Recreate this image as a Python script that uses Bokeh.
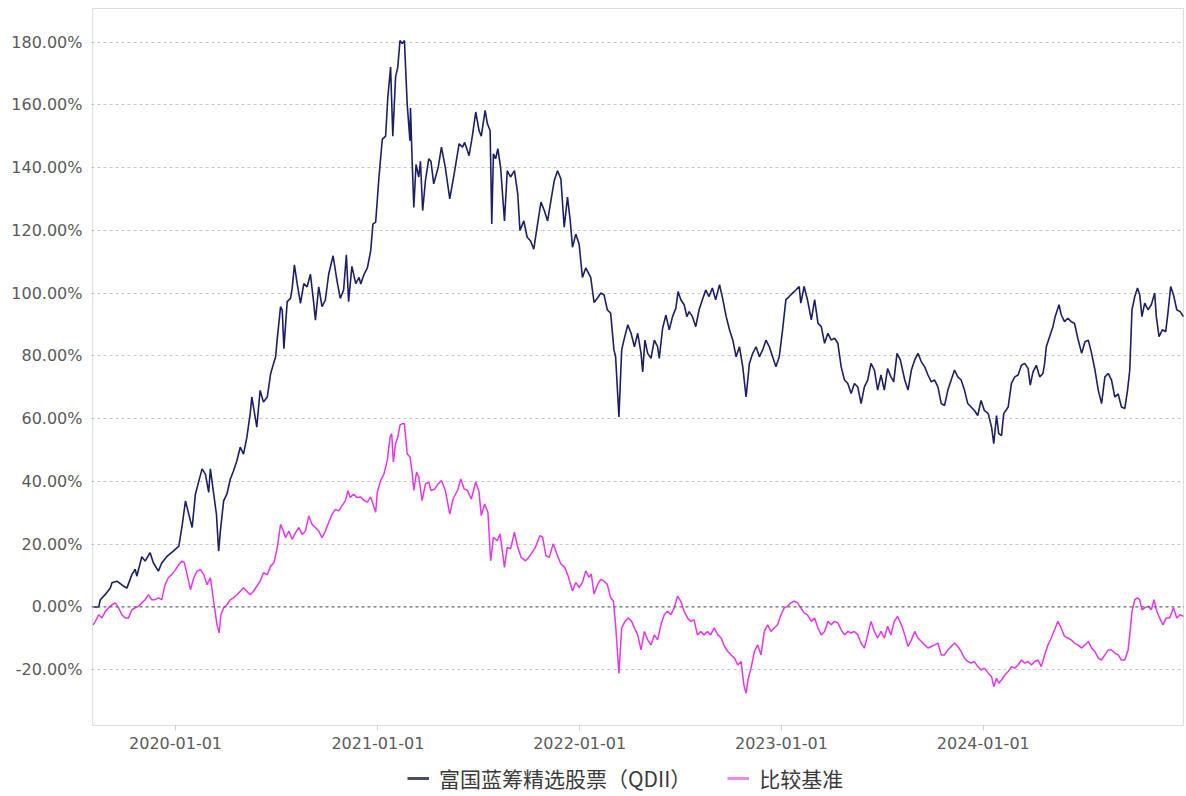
import pandas as pd
from bokeh.plotting import figure
from bokeh.models import (Range1d, FixedTicker, DatetimeTickFormatter, PrintfTickFormatter,
                          Legend, LegendItem, Span, BoxAnnotation)
from bokeh.embed import file_html
from bokeh.resources import INLINE

start_date = "2019-08-05"
fund_name = "富国蓝筹精选股票（QDII）"
bench_name = "比较基准"

fund_day = [1, 10, 13, 22, 31, 34, 43, 52, 61, 70, 76, 79, 88, 94, 103, 109, 118, 124, 133, 145, 155, 161, 167, 173, 179,
            185, 191, 197, 203, 209, 212, 218, 223, 227, 230, 236, 242, 248, 254, 260, 266, 272, 278, 284, 287, 293, 296,
            302, 308, 315, 321, 327, 330, 333, 339, 342, 345, 351, 357, 360, 364, 369, 375, 381, 387, 393, 399, 402, 408,
            414, 420, 426, 434, 441, 447, 453, 458, 462, 468, 475, 481,
            484, 490, 496, 502, 506, 511, 517, 523, 529, 533, 538, 542, 547, 551, 555, 559, 563, 568, 573, 574, 577, 580,
            584, 589, 592, 596, 601, 607, 611, 616, 624, 630, 637, 645, 653, 662, 668, 672, 680, 686, 692, 698, 702, 709,
            713, 718, 721, 724, 728, 732, 737, 744, 749, 755, 762, 768, 772, 779, 785, 791, 797, 803, 810, 816, 822, 828,
            834, 840, 846, 852, 858, 863, 867, 873, 879, 885, 891, 900, 906, 913,
            918, 924, 930, 936, 942, 945, 951, 956, 960, 967, 973, 979, 985, 991, 994, 998, 1003, 1009, 1015, 1021, 1024,
            1030, 1036, 1042, 1048, 1054, 1058, 1063, 1069, 1074, 1078, 1084, 1090, 1096, 1102, 1108, 1114, 1120, 1126,
            1133, 1139, 1145, 1151, 1157, 1163, 1169, 1175, 1181, 1187, 1193, 1199, 1205, 1211, 1217, 1223, 1229, 1235,
            1241, 1247, 1253, 1259, 1265, 1271, 1277, 1280, 1286, 1292, 1299, 1305, 1311, 1317, 1323, 1329, 1335, 1341,
            1347, 1353, 1359, 1365, 1371, 1377, 1383, 1389, 1395, 1401, 1407, 1413, 1419,
            1425, 1431, 1437, 1443, 1448, 1454, 1460, 1468, 1474, 1480, 1486, 1492, 1498, 1504, 1510, 1516, 1522, 1528,
            1534, 1540, 1546, 1552, 1558, 1564, 1570, 1576, 1582, 1588, 1594, 1600, 1606, 1612, 1619, 1625, 1629, 1634,
            1638, 1643, 1647, 1655, 1661, 1667, 1673, 1679, 1685, 1691, 1695, 1700, 1706, 1712, 1718, 1721, 1724, 1730,
            1736, 1740, 1747, 1751, 1757, 1763, 1769, 1775, 1781, 1788, 1794, 1800, 1806, 1812, 1818, 1824, 1830, 1836,
            1842, 1848, 1854, 1860, 1866, 1871, 1875, 1879, 1884, 1889, 1893, 1897, 1902, 1908, 1914, 1920, 1923, 1928,
            1934, 1940, 1944, 1949, 1954, 1960, 1966, 1972]
fund_pct = [0, 0, 2.3, 4, 6, 7.7, 8.2, 7, 6, 10.3, 12, 9.8, 16, 14.6, 17.3, 14, 11.4, 14, 16, 17.8, 19.4, 26, 33.8, 29.5, 25.3,
            36, 40, 44, 42.3, 36.5, 44, 36, 29.5, 17.8, 24, 33.8, 36, 40.7, 43.4, 46.6, 50.9, 48.7, 54, 61.5, 66.9, 60.5, 57.3,
            69, 65.3, 66.9, 74.3, 78, 79.7, 85.5, 95.7, 94.6, 82.3, 97.3, 98.3, 101.5, 109, 103, 96.7, 103, 102, 106, 96.7, 91.4, 102,
            95.7, 97.8, 106, 111.9, 104, 98.3, 101, 112.2, 97.3, 108.5, 103, 105,
            102.9, 106, 108, 113.5, 122, 122.6, 137, 149, 150, 162.4, 172, 150, 168.8, 172, 180.5, 179.5, 180.5, 160.3, 148.6, 159, 142, 127.3,
            141, 137, 142, 126.3, 135.8, 142.8, 142, 134.8, 140, 146.5, 140, 130, 138, 147.6, 146.5, 148, 143.8, 150.2, 157.7, 151.8, 150, 158.2,
            154, 151.8, 122, 144.4, 142.8, 146, 140, 123, 139, 137, 139, 131.6, 120, 123, 117.8, 116.7, 114, 121, 129, 126.3, 123, 129.5,
            135.8, 139, 136.4, 121, 130.6, 123, 114.6, 118.8, 115.6, 105, 108, 105, 97, 98.6,
            100, 99.5, 94.7, 93.6, 81.9, 79.7, 60.5, 81.9, 85, 89.9, 87.2, 82.9, 87.2, 80.8, 74.9, 85, 80.8, 79.2, 85, 82.9, 79.2,
            88.8, 93, 88.3, 92.5, 95.2, 100.5, 97.9, 96.3, 92.5, 94.1, 92.5, 89.3, 94.7, 97.9, 101, 98.9, 101.6, 97.9,
            102.7, 97.9, 92.5, 88.3, 85, 79.7, 82.9, 76.5, 66.9, 77.6, 80.8, 82.9, 79.7, 81.9, 85, 82.9, 79.7, 76.5,
            79.7, 88.3, 97.9, 98.9, 100, 101, 102.1, 96.8, 102.1, 97.9, 91.5, 97.9, 90.4, 89.3, 84, 87.2, 85, 85.6,
            84, 76.5, 72.3, 71.2, 68, 71.2, 70.1, 64.8, 70.1, 72.3, 77.6, 75.5, 69.1,
            73.9, 69.1, 76, 73.3, 71.7, 80.8, 78.7, 72.3, 69.1, 75.5, 78.7, 80.8, 78.1, 76.5, 73.9, 71.7, 72.3, 70.1,
            64.8, 64.2, 69.1, 72.3, 75.5, 73.3, 72.3, 69.1, 64.8, 63.7, 62.6, 61, 65.8, 62.6, 61.6, 57.3, 52, 61,
            55.2, 54.6, 61.6, 63.7, 71.2, 73.3, 73.9, 77, 77.6, 76, 70.7, 74.9, 77, 73.3, 74.4, 77.6, 82.9, 86.1,
            89.3, 92.5, 96.3, 93.1, 90.9, 92, 90.9, 90.4, 85.6, 80.8, 84.5, 85, 80.8, 75.5, 69.1, 64.8, 73.3, 74.4,
            72.3, 66.9, 67.9, 63.7, 63.2, 69.1, 75.5, 94.7, 98.9, 101.6, 99.5, 92.5, 96.8, 94.7, 96.3, 100, 92.5, 86.1,
            88.3, 87.7, 93.6, 102.1, 99.5, 94.7, 94.1, 92.5]

bench_day = [0, 4, 10, 16, 22, 28, 34, 40, 46, 52, 58, 64, 70, 76, 82, 88, 94, 100, 106, 112, 118, 124, 130, 136, 142, 149,
             155, 161, 165, 170, 176, 182, 188, 194, 200, 206, 212, 218, 224, 228, 231, 236, 242, 248, 254, 260, 266, 272,
             278, 284, 290, 296, 302, 308, 315, 321, 327, 333, 339, 344, 348, 354, 360, 366, 372, 378, 384, 390, 396, 402,
             408, 414, 420, 426, 432, 438, 444, 450, 456, 461, 465, 471, 477,
             484, 490, 496, 502, 508, 511, 514, 520, 526, 532, 537, 540, 543, 547, 551, 555, 559, 563, 568, 573, 577, 580,
             585, 589, 595, 601, 607, 611, 618, 624, 630, 637, 645, 651, 659, 665, 671, 677, 684, 692, 698, 702, 708, 714,
             719, 724, 731, 736, 740, 744, 749, 755, 762, 768, 774, 782, 788, 794, 800, 808, 813, 819, 825, 832, 840, 846,
             853, 859, 867, 873, 879, 885, 891, 897, 901, 906, 913,
             918, 924, 930, 936, 941, 945, 951, 956, 962, 968, 974, 979, 985, 991, 997, 1003, 1009, 1015, 1021, 1027, 1033,
             1039, 1045, 1051, 1057, 1063, 1069, 1075, 1081, 1087, 1093, 1099, 1105, 1111, 1117, 1123, 1130, 1136, 1142,
             1148, 1154, 1160, 1166, 1172, 1177, 1181, 1185, 1190, 1196, 1202, 1208, 1214, 1220, 1226, 1232, 1238, 1244,
             1250, 1256, 1262, 1268, 1274, 1280, 1286, 1292, 1299, 1305, 1311, 1317, 1323, 1329, 1335, 1341, 1347, 1353,
             1359, 1365, 1371, 1377, 1383, 1389, 1395, 1401, 1407, 1413, 1419,
             1425, 1431, 1437, 1443, 1449, 1455, 1462, 1468, 1474, 1480, 1486, 1492, 1498, 1504, 1510, 1516, 1522, 1528,
             1534, 1540, 1546, 1552, 1558, 1564, 1570, 1576, 1582, 1588, 1594, 1600, 1606, 1612, 1619, 1625, 1629, 1634,
             1638, 1643, 1649, 1655, 1661, 1667, 1673, 1679, 1685, 1691, 1697, 1703, 1709, 1715, 1721, 1727, 1733, 1739,
             1745, 1751, 1757, 1763, 1769, 1775, 1781, 1788, 1794, 1800, 1806, 1812, 1818, 1824, 1830, 1836, 1842, 1848,
             1854, 1860, 1866, 1872, 1875, 1879, 1884, 1889, 1893, 1897, 1902, 1908, 1914, 1919, 1923, 1929, 1935, 1941,
             1947, 1954, 1960, 1966, 1972]
bench_pct = [-5.7, -4.6, -2.5, -3.5, -1.4, -0.3, 0.7, 1.3, -0.3, -2.5, -3.5, -3.5, -0.9, -0.3, 0.2, 1.3, 2.3, 3.9, 2.3, 2.3, 2.9, 2.3, 7.1, 9.3, 10.3, 11.9,
             13.5, 14.6, 14.1, 10.3, 5.5, 9.3, 11.4, 11.9, 10.3, 7.1, 9.3, 1.8, -5.7, -8.3, -2.5, -0.3, 0.7, 2.3, 2.9, 3.9, 5, 6.1,
             5, 3.9, 5, 6.6, 8.2, 10.9, 10.3, 13, 14.1, 18.9, 26.3, 24.2, 22.1, 24.2, 21.5, 23.7, 25.3, 23.1, 24.2, 29, 26.3, 25.3,
             24.2, 22.1, 24.2, 26.9, 29.5, 31.1, 30.6, 32.2, 33.8, 37, 34.9, 35.9, 34.9,
             35, 33.9, 33.4, 35, 31.8, 30.2, 36.6, 40.3, 42.4, 46.7, 54.1, 55.2, 46.2, 52, 54.1, 57.9, 58.4, 58.4, 48.8, 47.8, 43, 37.1,
             43, 41.4, 33.9, 39.2, 39.8, 37.1, 37.6, 39.2, 40.3, 37.1, 29.6, 34.4, 37.1, 40.8, 37.6, 37.1, 34.4, 39.8, 36.6, 29.1, 32.8, 30.2,
             14.7, 22.2, 21.1, 23.3, 17.9, 12.6, 19, 18.5, 23.8, 19, 15.8, 14.7, 15.8, 17.4, 19, 22.7, 22.2, 16.3, 15.8, 20.1, 16.3, 13.7,
             12.6, 9.9, 5.1, 7.8, 6.2, 7.8, 11.5, 9.4, 10.5, 4.1, 7.3,
             8.8, 8.2, 7.2, 2.9, 1.9, -5.7, -21.2, -6.7, -4.6, -3.5, -4.6, -6.7, -8.9, -13.7, -7.8, -10.5, -12.1, -8.9, -10.5, -5.7, -2.5,
             -1.4, -2.5, -0.3, 3.4, 1.8, -1.4, -3.5, -4.6, -4.1, -8.9, -7.8, -8.9, -7.8, -8.9, -6.7, -8.9, -9.9, -12.6,
             -14.2, -15.3, -16.3, -18.5, -17.4, -24.9, -27.5, -22.7, -19.5, -14.2, -12.1, -15.3, -7.8, -5.7, -7.8, -6.7, -5.7, -2.5,
             -0.3, 0.2, 1.3, 1.8, 1.3, -0.3, -1.9, -2.5, -4.6, -3.5, -6.7, -8.9, -7.8, -4.6, -5.7, -4.6, -5.1, -7.3,
             -8.9, -7.8, -8.3, -7.8, -8.9, -11.5, -13.1, -8.9, -4.6, -7.8, -9.9,
             -7.8, -9.9, -6.2, -8.9, -4.6, -3, -5.7, -8.9, -12.6, -10.5, -7.8, -9.9, -11, -12.1, -13.1, -12.6, -12.1, -11.5,
             -15.3, -15.3, -13.7, -12.6, -11.5, -12.6, -14.2, -16.3, -17.4, -17.9, -17.4, -19, -20.1, -19.5, -21.1, -22.2, -25.4, -22.7,
             -24.3, -23.3, -21.7, -20.6, -19, -19.5, -18.5, -16.9, -17.9, -17.4, -18.5, -17.4, -16.9, -19, -15.3, -12.1, -9.9, -7.3,
             -4.6, -6.7, -9.4, -9.9, -10.5, -11.5, -12.1, -13.1, -12.1, -11, -13.1, -14.2, -16.3, -16.9, -15.3, -13.7, -13.7, -14.7,
             -15.3, -16.9, -16.9, -13.7, -8.9, -1.4, 2.3, 2.9, 2.3, -0.9, -0.3, 0.2, -0.9, 2.3, -0.9, -3.5, -5.7, -3.5,
             -3.5, -0.3, -3.5, -2.5, -3]

x_tick_labels = ["2020-01-01", "2021-01-01", "2022-01-01", "2023-01-01", "2024-01-01"]
y_ticks = [-20, 0, 20, 40, 60, 80, 100, 120, 140, 160, 180]

# plot-area extent (data box) and full frame extent (frame also holds the legend strip below the axis)
box_x0, box_x1 = "2019-08-04", "2024-12-28"
box_y0, box_y1 = -37.76, 190.7
frame_x0, frame_x1 = "2019-08-02", "2024-12-30"
frame_y0, frame_y1 = -60.4, 191.0

fund_color = "#1c1f66"
bench_color = "#e437e4"

t0 = pd.Timestamp(start_date)
fund_dates = t0 + pd.to_timedelta(fund_day, unit="D")
bench_dates = t0 + pd.to_timedelta(bench_day, unit="D")


def ms(s):
    return pd.Timestamp(s).value // 10**6


p = figure(width=1184, height=796, x_axis_type="datetime",
           x_range=Range1d(ms(frame_x0), ms(frame_x1)),
           y_range=Range1d(frame_y0, frame_y1),
           output_backend="svg", toolbar_location=None,
           min_border_left=91, min_border_right=0, min_border_top=7, min_border_bottom=0)

p.background_fill_color = "white"
p.border_fill_color = "white"
p.outline_line_color = None

p.xgrid.grid_line_color = None
p.ygrid.grid_line_color = "#c8c8c8"
p.ygrid.grid_line_dash = "3 3"
p.ygrid.grid_line_width = 1

zero = Span(location=0, dimension="width", line_color="#555a70", line_dash="3 3", line_width=1)
p.add_layout(zero)

r_bench = p.line(bench_dates, bench_pct, line_color=bench_color, line_width=1.5)
r_fund = p.line(fund_dates, fund_pct, line_color=fund_color, line_width=1.6)

box = BoxAnnotation(left=ms(box_x0), right=ms(box_x1), bottom=box_y0, top=box_y1,
                    fill_alpha=0, line_color="#8a8a8a", line_width=1)
p.add_layout(box)

# legend-only renderers: a single point draws no visible line, but gives the legend a thick swatch
lg_fund = p.line(x=fund_dates[:1], y=fund_pct[:1], line_color="#4a4d66", line_width=3)
lg_bench = p.line(x=bench_dates[:1], y=bench_pct[:1], line_color="#e68ee6", line_width=3)

p.xaxis.fixed_location = box_y0
p.xaxis.ticker = FixedTicker(ticks=[ms(s) for s in x_tick_labels])
p.xaxis.formatter = DatetimeTickFormatter(years="%Y-%m-%d", months="%Y-%m-%d", days="%Y-%m-%d")
p.yaxis.ticker = FixedTicker(ticks=y_ticks)
p.yaxis.formatter = PrintfTickFormatter(format="%.2f%%")

for ax in (p.xaxis[0], p.yaxis[0]):
    ax.axis_line_color = None
    ax.major_label_text_font = "DejaVu Sans"
    ax.major_label_text_font_size = "16px"
    ax.major_label_text_color = "#5a5a5a"
    ax.minor_tick_line_color = None

p.yaxis.major_tick_line_color = None
p.yaxis.major_label_standoff = 3
p.xaxis.major_tick_line_color = "#cfcfcf"
p.xaxis.major_tick_in = 0
p.xaxis.major_tick_out = 5
p.xaxis.major_label_standoff = 7

legend = Legend(items=[LegendItem(label=fund_name, renderers=[lg_fund]),
                       LegendItem(label=bench_name, renderers=[lg_bench])],
                orientation="horizontal", location=(316, 3))
legend.label_text_font = "Noto Sans CJK SC"
legend.label_text_font_size = "21px"
legend.label_text_color = "#3a3a3a"
legend.glyph_width = 22
legend.glyph_height = 20
legend.spacing = 36
legend.label_standoff = 10
legend.border_line_color = None
legend.background_fill_alpha = 0
legend.padding = 0
legend.margin = 0
p.add_layout(legend, "center")

open("out.html", "w").write(file_html(p, INLINE))
